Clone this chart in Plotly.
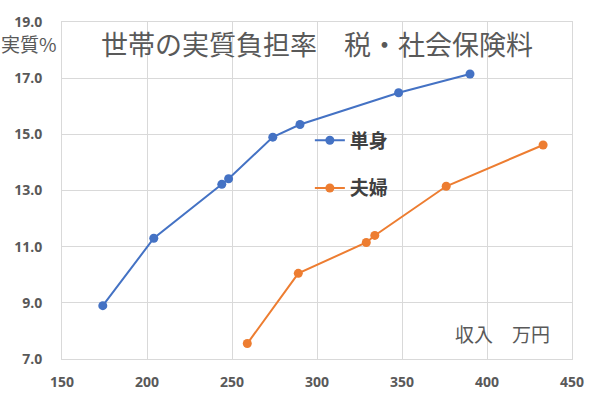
import plotly.graph_objects as go

single_x = [174, 204, 244, 248, 274, 290, 348, 390]
single_y = [8.9, 11.3, 13.22, 13.42, 14.9, 15.35, 16.48, 17.15]
couple_x = [259, 289, 329, 334, 376, 433]
couple_y = [7.55, 10.05, 11.15, 11.4, 13.15, 14.62]

x_ticks = [150, 200, 250, 300, 350, 400, 450]
y_ticks = [7, 9, 11, 13, 15, 17, 19]

title_text = "世帯の実質負担率　税・社会保険料"
y_label = "実質%"
x_label = "収入　万円"

JP = "Noto Sans CJK JP"
GREY = "#595959"

fig = go.Figure()
fig.add_trace(go.Scatter(x=single_x, y=single_y, mode="lines+markers", name="単身",
                         legendgroup="a",
                         line=dict(color="#4472C4", width=2),
                         marker=dict(color="#4472C4", size=9)))
fig.add_trace(go.Scatter(x=couple_x, y=couple_y, mode="lines+markers", name="夫婦",
                         legendgroup="b",
                         line=dict(color="#ED7D31", width=2),
                         marker=dict(color="#ED7D31", size=9)))

axis_font = dict(family="Open Sans", size=14, color=GREY, weight="bold")

fig.update_layout(
    width=600, height=403,
    margin=dict(l=62, r=28, t=16, b=44),
    paper_bgcolor="white", plot_bgcolor="white",
    showlegend=True,
    legend=dict(x=0.486, y=0.705, xanchor="left", yanchor="top",
                bgcolor="rgba(0,0,0,0)", tracegroupgap=20,
                traceorder="grouped",
                font=dict(family=JP, size=19, color="#404040", weight="bold")),
    xaxis=dict(range=[150, 450], tickvals=x_ticks, showgrid=True,
               gridcolor="#d9d9d9", gridwidth=1, zeroline=False,
               showline=True, linecolor="#d9d9d9", mirror=True,
               tickfont=axis_font, ticks="", ticklabelstandoff=10),
    yaxis=dict(range=[7, 19], tickvals=y_ticks, tickformat=".1f", showgrid=True,
               gridcolor="#d9d9d9", gridwidth=1, zeroline=False,
               showline=True, linecolor="#d9d9d9", mirror=True,
               tickfont=axis_font, ticks="", ticklabelstandoff=16),
    annotations=[
        dict(text=title_text, xref="paper", yref="paper", x=0.5, y=0.935,
             xanchor="center", yanchor="middle", showarrow=False,
             font=dict(family=JP, size=27, color=GREY)),
        dict(text=y_label, xref="paper", yref="paper", x=-0.005, y=0.935,
             xanchor="right", yanchor="middle", showarrow=False,
             font=dict(family=JP, size=19, color=GREY)),
        dict(text=x_label, xref="paper", yref="paper", x=0.96, y=0.075,
             xanchor="right", yanchor="middle", showarrow=False,
             font=dict(family=JP, size=19, color=GREY)),
    ],
)

fig.write_html("out.html")
